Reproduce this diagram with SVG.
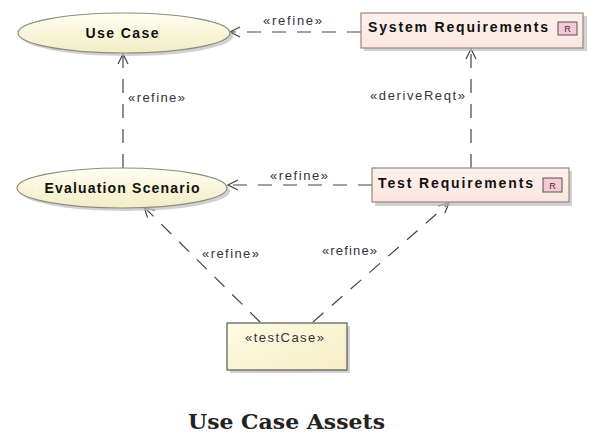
<svg xmlns="http://www.w3.org/2000/svg" width="595" height="434" viewBox="0 0 595 434">
<style>
.bg{fill:#ffffff}
.shadow{fill:#bdbdbd;opacity:0.7}
.uc{fill:url(#ucGrad);stroke:#8c8c80;stroke-width:1.2}
.req{fill:url(#reqGrad);stroke:#9a8580;stroke-width:1.2}
.tc{fill:url(#tcGrad);stroke:#555555;stroke-width:1.2}
.icon{fill:#f7c9d3;stroke:#555555;stroke-width:1}
.name{font-family:"Liberation Sans",Arial,sans-serif;font-weight:bold;font-size:14px;fill:#111111}
.ster{font-family:"Liberation Sans",Arial,sans-serif;font-size:13px;fill:#333340}
.lbl{font-family:"Liberation Sans",Arial,sans-serif;font-size:13px;fill:#333340}
.ico{font-family:"Liberation Sans",Arial,sans-serif;font-size:9px;fill:#333333}
.dash{fill:none;stroke:#444444;stroke-width:1.2;stroke-dasharray:14,11}
.title{font-family:"DejaVu Serif","Liberation Serif",serif;font-weight:bold;font-size:20px;fill:#222222}
</style>
<defs>
<linearGradient id="ucGrad" x1="0" y1="0" x2="0" y2="1">
<stop offset="0" stop-color="#fffef2"/>
<stop offset="1" stop-color="#f3edc4"/>
</linearGradient>
<linearGradient id="reqGrad" x1="0" y1="0" x2="0" y2="1">
<stop offset="0" stop-color="#fdf1ec"/>
<stop offset="1" stop-color="#fbe6e0"/>
</linearGradient>
<linearGradient id="tcGrad" x1="0" y1="0" x2="1" y2="1">
<stop offset="0" stop-color="#fffbe4"/>
<stop offset="1" stop-color="#f6eec6"/>
</linearGradient>
<marker id="open" viewBox="0 0 12 12" refX="11" refY="6" markerWidth="12" markerHeight="12" markerUnits="userSpaceOnUse" orient="auto">
<path d="M1,1 L11,6 L1,11" fill="none" stroke="#444444" stroke-width="1.2"/>
</marker>
</defs>
<rect class="bg" x="0" y="0" width="595" height="434"/>

<g id="connectors">
<g id="c-sysreq-usecase">
<line class="dash" x1="361" y1="32" x2="230" y2="32" marker-end="url(#open)"/>
<text class="lbl" x="263" y="25" textLength="59" lengthAdjust="spacing">«refine»</text>
</g>
<g id="c-testreq-evalscen">
<line class="dash" x1="372" y1="185" x2="228" y2="185" marker-end="url(#open)"/>
<text class="lbl" x="270" y="180" textLength="58" lengthAdjust="spacing">«refine»</text>
</g>
<g id="c-evalscen-usecase">
<line class="dash" x1="123" y1="168" x2="123" y2="54" marker-end="url(#open)"/>
<text class="lbl" x="128" y="102" textLength="57" lengthAdjust="spacing">«refine»</text>
</g>
<g id="c-testreq-sysreq">
<line class="dash" x1="471" y1="168" x2="471" y2="49" marker-end="url(#open)"/>
<text class="lbl" x="370" y="100" textLength="95" lengthAdjust="spacing">«deriveReqt»</text>
</g>
<g id="c-testcase-evalscen">
<line class="dash" x1="260" y1="322" x2="144" y2="207" marker-end="url(#open)"/>
<text class="lbl" x="202" y="258" textLength="57" lengthAdjust="spacing">«refine»</text>
</g>
<g id="c-testcase-testreq">
<line class="dash" x1="313" y1="322" x2="449" y2="203" marker-end="url(#open)"/>
<text class="lbl" x="322" y="255" textLength="55" lengthAdjust="spacing">«refine»</text>
</g>
</g>

<g id="use-case">
<ellipse class="shadow" cx="127" cy="36" rx="106" ry="20"/>
<ellipse class="uc" cx="124" cy="33" rx="106" ry="20"/>
<text class="name" x="122" y="38" text-anchor="middle" textLength="73" lengthAdjust="spacing">Use Case</text>
</g>

<g id="evaluation-scenario">
<ellipse class="shadow" cx="125" cy="191" rx="105" ry="20"/>
<ellipse class="uc" cx="122" cy="188" rx="105" ry="20"/>
<text class="name" x="122" y="193" text-anchor="middle" textLength="155" lengthAdjust="spacing">Evaluation Scenario</text>
</g>

<g id="system-requirements">
<rect class="shadow" x="364" y="16" width="223" height="35"/>
<rect class="req" x="361" y="13" width="222" height="35"/>
<text class="name" x="368" y="32" textLength="180" lengthAdjust="spacing">System  Requirements</text>
<rect class="icon" x="558" y="22" width="19" height="13"/>
<text class="ico" x="567.5" y="32" text-anchor="middle">R</text>
</g>

<g id="test-requirements">
<rect class="shadow" x="375" y="171" width="197" height="35"/>
<rect class="req" x="372" y="168" width="197" height="34"/>
<text class="name" x="378" y="188" textLength="155" lengthAdjust="spacing">Test Requirements</text>
<rect class="icon" x="543" y="178" width="19" height="14"/>
<text class="ico" x="552.5" y="188.5" text-anchor="middle">R</text>
</g>

<g id="test-case">
<rect class="shadow" x="230" y="326" width="120" height="47"/>
<rect class="tc" x="227" y="323" width="120" height="47"/>
<text class="ster" x="245" y="342" textLength="79" lengthAdjust="spacing">«testCase»</text>
</g>

<text class="title" x="188" y="429" textLength="197" lengthAdjust="spacingAndGlyphs">Use Case Assets</text>
</svg>
